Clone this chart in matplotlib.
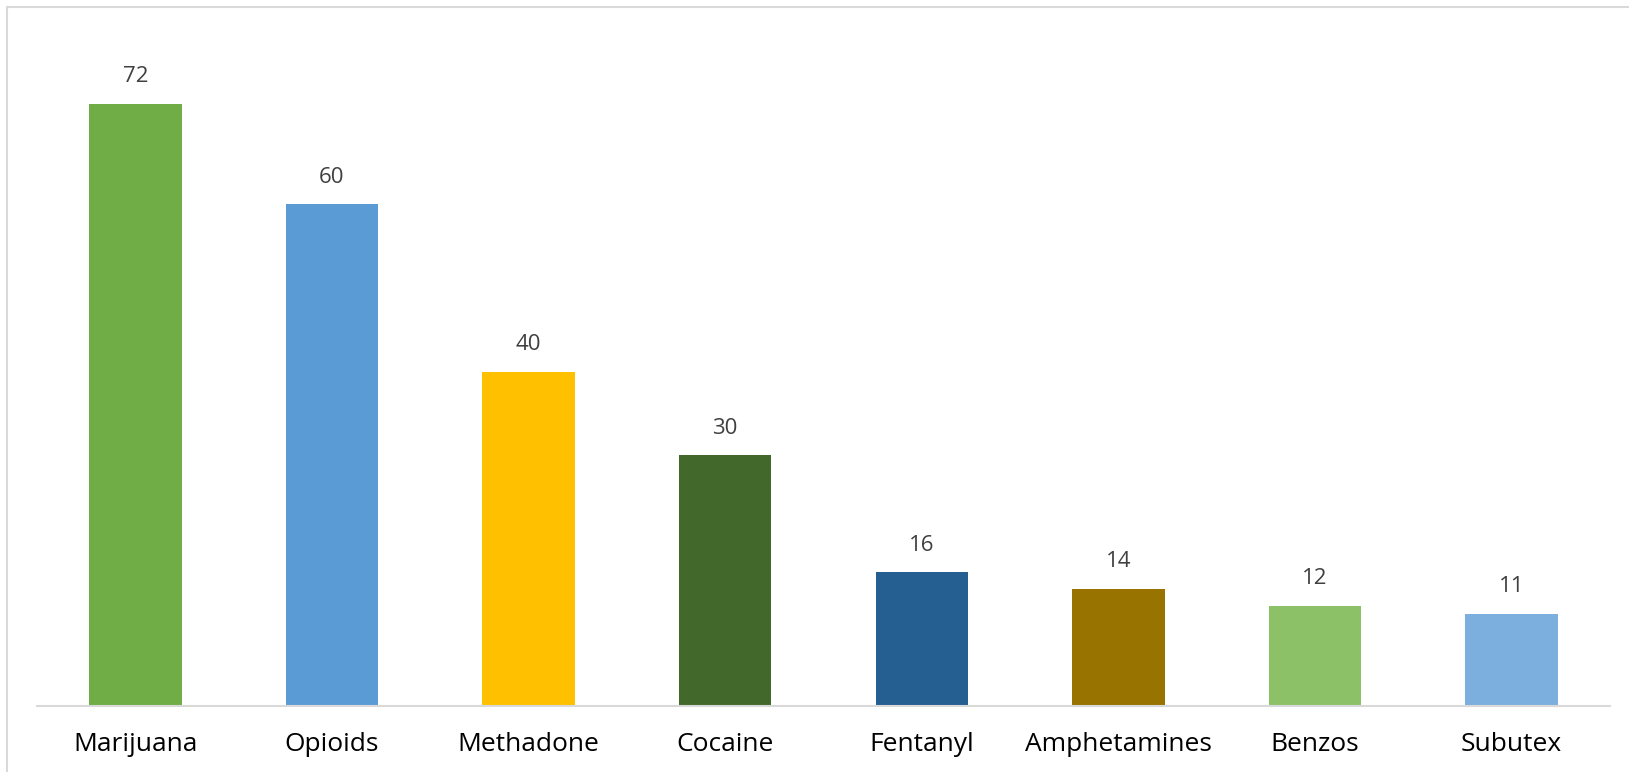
import matplotlib
matplotlib.use("Agg")
import matplotlib.pyplot as plt
from matplotlib.patches import Rectangle

# data
drugs = ["Marijuana", "Opioids", "Methadone", "Cocaine",
         "Fentanyl", "Amphetamines", "Benzos", "Subutex"]
counts = [72, 60, 40, 30, 16, 14, 12, 11]
bar_colors = ["#70AD47", "#5B9BD5", "#FFC000", "#43682B",
              "#255E91", "#997300", "#8CC168", "#7CAFDD"]

plt.rcParams["font.family"] = ["Open Sans", "DejaVu Sans"]

W, H = 1629, 772
fig = plt.figure(figsize = (W / 100, H / 100), dpi = 100)

# chart border, only top and left edges fall inside the picture
fig.patches.append(Rectangle((6.5 / W, -0.1), 1.2, 1 - 6.5 / H + 0.1,
                             transform = fig.transFigure,
                             fill = False, edgecolor = "#d9d9d9",
                             linewidth = 1.5))

ax = fig.add_axes([37 / W, 66 / H, (1610 - 37) / W, 668 / H])

x = range(len(drugs))
bars = ax.bar(x, counts, width = 0.47, color = bar_colors)

for rect, v in zip(bars, counts):
    ax.annotate(str(v),
                (rect.get_x() + rect.get_width() / 2, rect.get_height()),
                xytext = (0, 12), textcoords = "offset points",
                ha = "center", va = "bottom",
                fontsize = 16, color = "#404040")

ax.set_xlim(-0.5, len(drugs) - 0.5)
ax.set_ylim(0, 668 / 8.36)
ax.set_xticks(list(x))
ax.set_xticklabels(drugs, fontsize = 19, color = "black")
ax.tick_params(axis = "x", length = 0, pad = 19)
ax.set_yticks([])

for side in ["top", "right", "left"]:
    ax.spines[side].set_visible(False)
ax.spines["bottom"].set_color("#d9d9d9")
ax.spines["bottom"].set_linewidth(1.5)

fig.savefig("out.png", dpi = 100)
